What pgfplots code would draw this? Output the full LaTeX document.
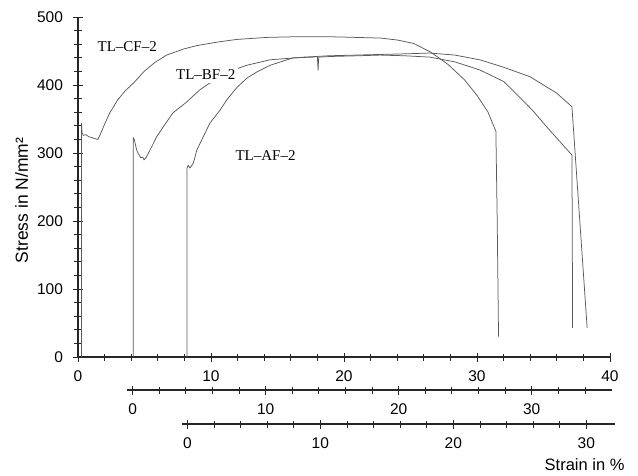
\documentclass[border=0pt]{standalone}
\usepackage{pgfplots}
\usepackage{pgfplotstable}
\pgfplotsset{compat=1.18}
\usepackage{fontspec}
\setmainfont{Liberation Sans}
\newfontfamily\seriffont{Liberation Serif}

% TL-CF-2: strain on the main axis (%), stress (N/mm^2)
\pgfplotstableread{
x y
0.27 0
0.27 344
0.30 330
0.40 326
0.60 327
0.80 324
1.00 323
1.29 321
1.49 320
1.69 328
1.99 342
2.39 359
2.98 378
3.58 392
4.18 403
4.97 420
5.77 433
6.66 444
7.95 453
8.95 458
10.44 463
11.93 467
14.22 470
16.41 471
18.89 471
20.88 470
22.77 469
24.06 466
25.26 461
26.55 448
27.84 430
29.04 408
30.03 384
30.83 360
31.42 332
31.52 200
31.62 30
}\cfdata

% TL-BF-2: strain on its own axis (offset 4.1 %)
\pgfplotstableread{
x y
0.06 0
0.06 322
0.14 319
0.315 304
0.414 300
0.613 293
0.762 294
0.862 290
1.011 293
1.309 304
1.816 324
2.294 338
3.039 359
4.074 375
5.068 393
6.341 410
7.435 421
8.588 429
10.318 437
12.904 441
14.793 443
16.782 444
18.770 445
20.758 446
22.349 447
24.238 444
26.127 437
27.917 426
29.906 412
31.894 388
33.038 368
34.182 43
}\bfdata

% TL-AF-2: strain on its own axis (offset 8.2 %)
\pgfplotstableread{
x y
0.00 0
0.00 278
0.09 282
0.22 278
0.47 285
0.73 304
1.22 324
1.72 344
2.48 363
2.98 378
3.73 396
4.49 410
5.23 419
6.24 429
7.99 440
9.47 441
9.80 442
9.85 421
9.90 441
10.89 442
12.88 443
14.51 444
16.36 443
18.25 441
20.14 434
22.03 422
23.82 405
25.01 382
26.01 362
27.06 338
28.94 297
28.99 43
}\afdata

\begin{document}
\begin{tikzpicture}
\path[use as bounding box] (0,0) rectangle (638pt,475pt);
\pgfplotsset{
  every axis/.append style={
    scale only axis,
    axis line style={-, line width=1.1pt, black!85},
    every outer x axis line/.append style={-},
    every inner x axis line/.append style={-},
    x axis line style={-},
    tick style={black!85, line width=0.8pt},
    tick align=center,
    major tick length=9pt,
    minor tick length=7pt,
    ticklabel style={font=\fontsize{15.5}{16}\selectfont},
    xticklabel style={yshift=-6pt},
    /pgf/number format/assume math mode=true,
    clip=false,
  }
}
% main axis (TL-CF-2)
\begin{axis}[
  at={(78pt,118pt)}, anchor=south west,
  width=532pt, height=340pt,
  xmin=0, xmax=40, ymin=0, ymax=500,
  axis x line*=bottom, axis y line*=left,
  xtick={0,10,...,40}, ytick={0,100,...,500},
  minor xtick={0,2,...,40}, minor ytick={0,20,...,500},
  yticklabel style={xshift=-7pt},
]
\addplot[no marks, line width=0.75pt, black!65] table[x=x, y=y] {\cfdata};
\addplot[no marks, line width=0.75pt, black!65] table[x expr=\thisrow{x}+4.1, y=y] {\bfdata};
\addplot[no marks, line width=0.75pt, black!65] table[x expr=\thisrow{x}+8.2, y=y] {\afdata};
\node[font=\seriffont\fontsize{15}{16}\selectfont] at (axis cs:3.7,457) {TL–CF–2};
\node[font=\seriffont\fontsize{15}{16}\selectfont, fill=white, inner sep=3pt] at (axis cs:9.6,415) {TL–BF–2};
\node[font=\seriffont\fontsize{15}{16}\selectfont] at (axis cs:14.1,297) {TL–AF–2};
\end{axis}
% second strain axis (TL-BF-2)
\begin{axis}[
  at={(126.7pt,85pt)}, anchor=south west,
  width=484.8pt, height=10pt,
  xmin=-0.45, xmax=36, ymin=0, ymax=1,
  axis x line*=bottom, axis y line*=left,
  y axis line style={draw=none}, ytick=\empty,
  xtick={0,10,20,30}, minor xtick={0,2,...,34},
]
\end{axis}
% third strain axis (TL-AF-2)
\begin{axis}[
  at={(182.3pt,51pt)}, anchor=south west,
  width=432.6pt, height=10pt,
  xmin=-0.38, xmax=32.15, ymin=0, ymax=1,
  axis x line*=bottom, axis y line*=left,
  y axis line style={draw=none}, ytick=\empty,
  xtick={0,10,20,30}, minor xtick={0,2,...,30},
]
\end{axis}
\node[rotate=90, font=\fontsize{17.5}{18}\selectfont] at (21.7pt,274.5pt) {Stress in N/mm²};
\node[anchor=east, font=\fontsize{16.5}{17}\selectfont] at (628pt,10pt) {Strain in \%};
\end{tikzpicture}
\end{document}
